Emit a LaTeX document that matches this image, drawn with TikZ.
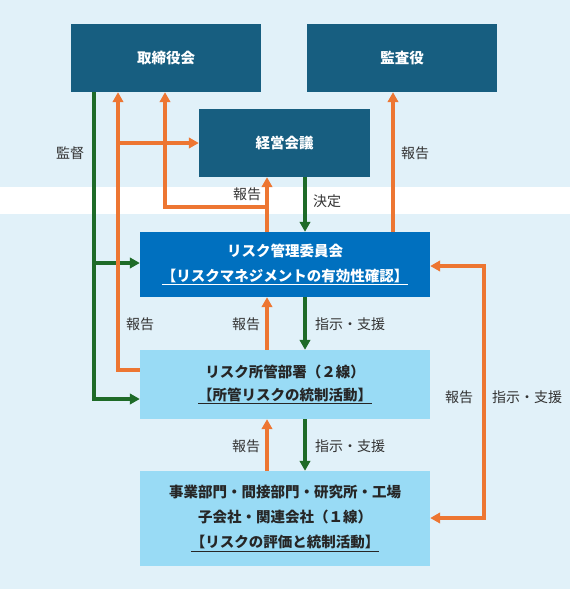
\documentclass[tikz,border=0pt]{standalone}
\usepackage{fontspec}
\setmainfont{Noto Sans CJK JP}
\usetikzlibrary{arrows.meta}
\definecolor{bgblue}{HTML}{E1F1F9}
\definecolor{darkbox}{HTML}{175E80}
\definecolor{midbox}{HTML}{0070BF}
\definecolor{lightbox}{HTML}{99DBF5}
\definecolor{orangeln}{HTML}{ED7632}
\definecolor{greenln}{HTML}{1E6B28}
\definecolor{txtgray}{HTML}{333333}
\newcommand\myul[1]{\setbox0\hbox{#1}\rlap{\rule[-3.6pt]{\wd0}{0.9pt}}\box0}
\tikzset{
  boxbase/.style={rectangle, inner sep=0pt, align=center, font=\fontsize{14.5}{24}\selectfont\bfseries},
  darkb/.style={boxbase, fill=darkbox, text=white},
  midb/.style={boxbase, fill=midbox, text=white},
  lightb/.style={boxbase, fill=lightbox, text=black!85},
  lbl/.style={font=\fontsize{14}{16}\selectfont, text=txtgray, inner sep=0pt},
  oarr/.style={draw=orangeln, line width=3.6pt, -{Triangle[length=10pt,width=10.5pt]}},
  obiarr/.style={draw=orangeln, line width=3.6pt, {Triangle[length=10pt,width=10.5pt]}-{Triangle[length=10pt,width=10.5pt]}},
  garr/.style={draw=greenln, line width=3.6pt, -{Triangle[length=10pt,width=10.5pt]}},
  gline/.style={draw=greenln, line width=3.6pt},
}
\begin{document}
\begin{tikzpicture}[x=1pt,y=-1pt]
\fill[bgblue] (0,0) rectangle (570,589);
\fill[white] (0,187) rectangle (570,214);
\useasboundingbox (0,0) rectangle (570,589);

\node[darkb, minimum width=190pt, minimum height=68pt] (tori) at (166,58) {取締役会};
\node[darkb, minimum width=190pt, minimum height=68pt] (kansa) at (402,58) {監査役};
\node[darkb, minimum width=171pt, minimum height=68pt] (keiei) at (284.5,143) {経営会議};
\node[midb, minimum width=290pt, minimum height=65pt, font=\fontsize{14.5}{25}\selectfont\bfseries] (kanri) at (285,264.5) {リスク管理委員会\\\myul{【リスクマネジメントの有効性確認】}};
\node[lightb, minimum width=290pt, minimum height=69pt, font=\fontsize{14.5}{23}\selectfont\bfseries] (shokan) at (285,384.5) {リスク所管部署（２線）\\\myul{【所管リスクの統制活動】}};
\node[lightb, minimum width=290pt, minimum height=95pt, font=\fontsize{14.5}{25}\selectfont\bfseries] (jigyo) at (285,518.5) {事業部門・間接部門・研究所・工場\\子会社・関連会社（１線）\\\myul{【リスクの評価と統制活動】}};

% x positions of vertical lines
\coordinate (xg) at (94,0);
\coordinate (xoa) at (118,0);
\coordinate (xob) at (165,0);
\coordinate (xoc) at (267,0);
\coordinate (xgd) at (305,0);
\coordinate (xoe) at (393,0);
\coordinate (xof) at (484,0);
\coordinate (ja) at (118,143);
\coordinate (jb) at (267,207);
\coordinate (jc) at (94,263);

% 監督 (green)
\draw[gline] (tori.south -| xg) -- (jc);
\draw[garr] (jc) |- (shokan.west |- 0,399);
\draw[garr] (jc) -- (kanri.west |- jc);

% 所管 -> 取締役会 / 経営会議 (orange)
\draw[oarr] (shokan.west |- 0,370) -| (tori.south -| xoa);
\draw[oarr] (ja) -- (keiei.west |- ja);

% 委員会 -> 経営会議 / 取締役会
\draw[oarr] (kanri.north -| xoc) -- (keiei.south -| xoc);
\draw[oarr] (jb) -| (tori.south -| xob);

% 決定
\draw[garr] (keiei.south -| xgd) -- (kanri.north -| xgd);

% 委員会 -> 監査役
\draw[oarr] (kanri.north -| xoe) -- (kansa.south -| xoe);

% 委員会 <-> 1線
\draw[obiarr] (kanri.east |- 0,266) -| (xof |- 0,518) -- (jigyo.east |- 0,518);

% 委員会 <-> 所管
\draw[oarr] (shokan.north -| xoc) -- (kanri.south -| xoc);
\draw[garr] (kanri.south -| xgd) -- (shokan.north -| xgd);

% 所管 <-> 1線
\draw[oarr] (jigyo.north -| xoc) -- (shokan.south -| xoc);
\draw[garr] (shokan.south -| xgd) -- (jigyo.north -| xgd);

% labels
\node[lbl] (l1) at (70,153) {監督};
\node[lbl] (l2) at (415,153) {報告};
\node[lbl] (l3) at (247,194) {報告};
\node[lbl] (l4) at (327,201) {決定};
\node[lbl] (l5) at (140,324) {報告};
\node[lbl] (l6) at (246,324) {報告};
\node[lbl] (l7) at (350,324) {指示・支援};
\node[lbl] (l8) at (459,397) {報告};
\node[lbl] (l9) at (527,397) {指示・支援};
\node[lbl] (l10) at (246,446) {報告};
\node[lbl] (l11) at (350,446) {指示・支援};
\end{tikzpicture}
\end{document}
